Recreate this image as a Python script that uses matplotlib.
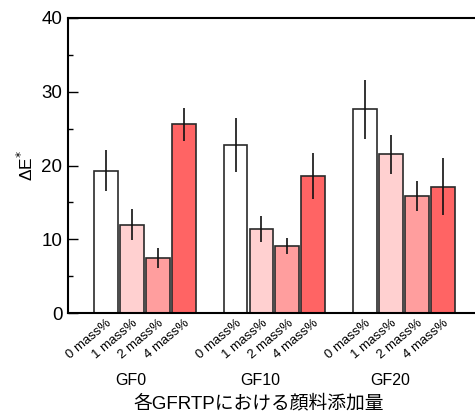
import matplotlib
matplotlib.use("Agg")
import matplotlib.pyplot as plt
import matplotlib.transforms as mtransforms
import numpy as np
from matplotlib.ticker import MultipleLocator

plt.rcParams['font.family'] = ['Liberation Sans', 'Noto Sans CJK JP', 'DejaVu Sans']

groups = ["GF0", "GF10", "GF20"]
levels = ["0 mass%", "1 mass%", "2 mass%", "4 mass%"]
delta_e = [
    [19.3, 12.0, 7.5, 25.6],
    [22.8, 11.4, 9.1, 18.6],
    [27.6, 21.5, 15.9, 17.1],
]
delta_e_err = [
    [2.8, 2.15, 1.35, 2.25],
    [3.65, 1.75, 1.05, 3.1],
    [3.95, 2.6, 2.05, 3.85],
]
colors = ["#FFFFFF", "#FFD0D0", "#FF9E9E", "#FF6464"]

W, H = 475, 416
fig = plt.figure(figsize=(W / 100, H / 100), dpi=100)
ax = fig.add_axes([68 / W, 1 - 313 / H, 416 / W, (313 - 18) / H])

slot = 5
for g, (vals, errs) in enumerate(zip(delta_e, delta_e_err)):
    xs = g * slot + np.arange(len(levels))
    ax.bar(xs, vals, width=0.92, color=colors, edgecolor="#2a2a2a",
           linewidth=1.2, zorder=2)
    ax.errorbar(xs, vals, yerr=errs, fmt="none", ecolor="#111111",
                elinewidth=1.2, capsize=0, zorder=3)

xt = [g * slot + i for g in range(len(groups)) for i in range(len(levels))]
ax.set_xticks(xt)
labels = ax.set_xticklabels(levels * len(groups), rotation=40, ha="right",
                            rotation_mode="anchor", fontsize=9.5)
shift = mtransforms.ScaledTranslation(7 / 100, 0, fig.dpi_scale_trans)
for lab in labels:
    lab.set_transform(lab.get_transform() + shift)
ax.tick_params(axis="x", length=0, pad=3)

ax.set_xlim(-1.46, 14.58)
ax.set_ylim(0, 40)
ax.yaxis.set_major_locator(MultipleLocator(10))
ax.yaxis.set_minor_locator(MultipleLocator(5))
ax.tick_params(axis="y", which="major", direction="in", length=7, width=1,
               labelsize=13.5, pad=4)
ax.tick_params(axis="y", which="minor", direction="in", length=3.5, width=1)
for s in ["left", "bottom", "top", "right"]:
    ax.spines[s].set_linewidth(1.5)

ax.set_ylabel("ΔE$^{*}$", fontsize=12.5, labelpad=4)

for g, name in enumerate(groups):
    ax.text(g * slot + 0.95, -60 / 295, name, transform=ax.get_xaxis_transform(),
            ha="center", va="top", fontsize=11.5)

fig.text(259 / W, 1 - 403 / H, "各GFRTPにおける顔料添加量", ha="center",
         va="center", fontsize=13.5)

fig.savefig("out.png", dpi=100)
